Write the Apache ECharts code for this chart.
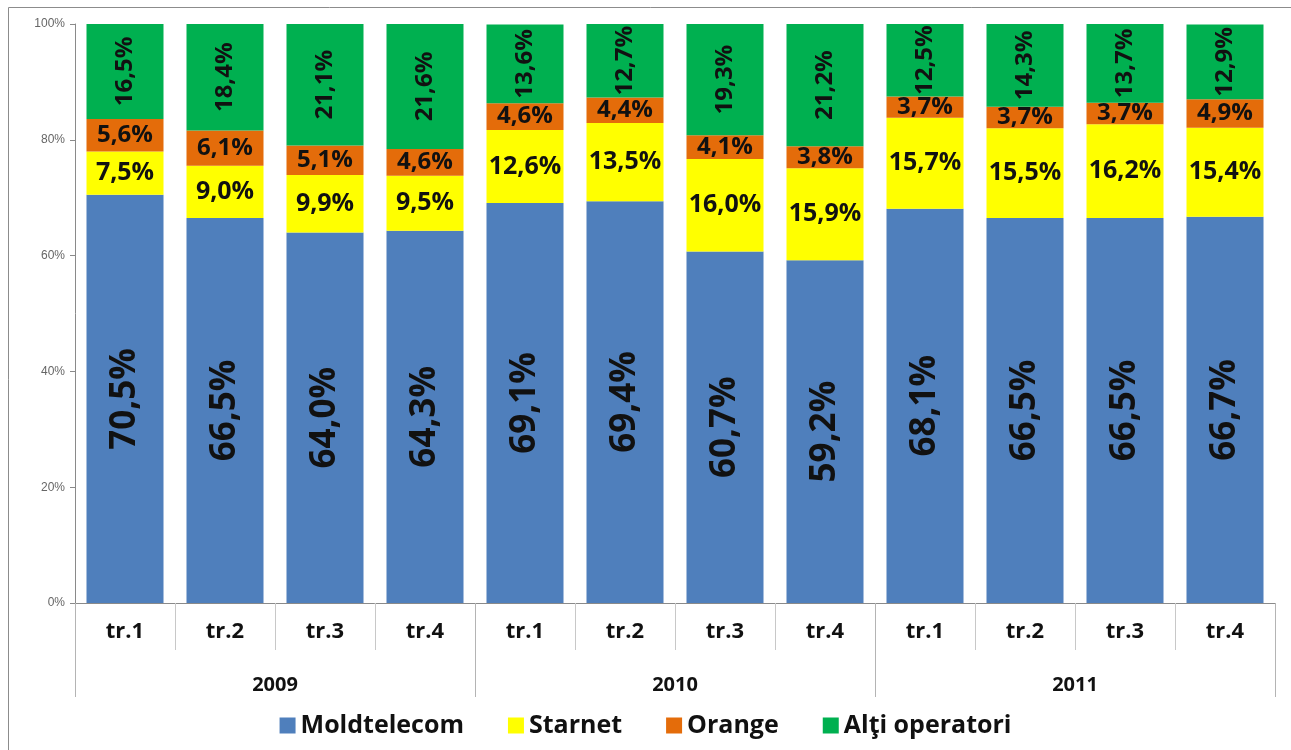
<!DOCTYPE html>
<html>
<head>
<meta charset="utf-8">
<script src="https://cdn.jsdelivr.net/npm/echarts@6/dist/echarts.min.js"></script>
<style>
  html, body { margin: 0; padding: 0; background: #fff; }
  #main { width: 1291px; height: 750px; }
</style>
</head>
<body>
<div id="main"></div>
<script>
var quarters = ['tr.1', 'tr.2', 'tr.3', 'tr.4', 'tr.1', 'tr.2', 'tr.3', 'tr.4', 'tr.1', 'tr.2', 'tr.3', 'tr.4'];
var years = ['2009', '2010', '2011'];
var yTicks = [0, 20, 40, 60, 80, 100];

var moldtelecom = [70.5, 66.5, 64.0, 64.3, 69.1, 69.4, 60.7, 59.2, 68.1, 66.5, 66.5, 66.7];
var starnet = [7.5, 9.0, 9.9, 9.5, 12.6, 13.5, 16.0, 15.9, 15.7, 15.5, 16.2, 15.4];
var orange = [5.6, 6.1, 5.1, 4.6, 4.6, 4.4, 4.1, 3.8, 3.7, 3.7, 3.7, 4.9];
var altii = [16.5, 18.4, 21.1, 21.6, 13.6, 12.7, 19.3, 21.2, 12.5, 14.3, 13.7, 12.9];

var FONT = '"Open Sans", "DejaVu Sans", sans-serif';

// 70.5 -> "70,5%"
function pct(p) {
  return p.value.toFixed(1).replace('.', ',') + '%';
}

function makeSeries(name, data, color, label) {
  return {
    name: name,
    type: 'bar',
    stack: 'total',
    barCategoryGap: '23%',
    data: data,
    itemStyle: { color: color },
    label: label
  };
}

var chart = echarts.init(document.getElementById('main'));

var option = {
  animation: false,
  textStyle: { fontFamily: FONT },
  graphic: [{
    type: 'rect',
    shape: { x: 8.5, y: 7.5, width: 1400, height: 900 },
    style: { fill: 'none', stroke: '#8c8c8c', lineWidth: 1 },
    silent: true
  }],
  grid: { left: 75, right: 16, top: 24, bottom: 147 },
  legend: {
    bottom: 7,
    left: 'center',
    itemWidth: 16,
    itemHeight: 16,
    itemGap: 44,
    icon: 'rect',
    textStyle: { fontFamily: FONT, fontSize: 25, fontWeight: 'bold', color: '#111' },
    data: ['Moldtelecom', 'Starnet', 'Orange', 'Alţi operatori']
  },
  xAxis: [
    {
      type: 'category',
      data: quarters,
      axisLine: { lineStyle: { color: '#8a8a8a', width: 1 } },
      axisTick: { show: true, length: 47, lineStyle: { color: '#c8c8c8' } },
      axisLabel: { margin: 18, fontSize: 22, fontWeight: 'bold', color: '#111', fontFamily: FONT }
    },
    {
      type: 'category',
      position: 'bottom',
      data: years,
      axisLine: { show: false },
      axisTick: { show: true, length: 94, lineStyle: { color: '#b4b4b4' } },
      axisLabel: { margin: 72, fontSize: 20, fontWeight: 'bold', color: '#111', fontFamily: FONT }
    }
  ],
  yAxis: {
    type: 'value',
    min: yTicks[0],
    max: yTicks[yTicks.length - 1],
    interval: 20,
    splitLine: { show: false },
    axisLine: { show: true, lineStyle: { color: '#8a8a8a' } },
    axisTick: { show: true, length: 5, lineStyle: { color: '#8a8a8a' } },
    axisLabel: { formatter: '{value}%', fontSize: 12, color: '#666', margin: 10, fontFamily: '"Liberation Sans Narrow", "Liberation Sans", sans-serif' }
  },
  series: [
    makeSeries('Moldtelecom', moldtelecom, '#4f7fbc', {
      show: true, position: 'inside', rotate: 90, formatter: pct,
      fontSize: 35, fontWeight: 'bold', color: '#111', fontFamily: FONT
    }),
    makeSeries('Starnet', starnet, '#ffff00', {
      show: true, position: 'inside', formatter: pct,
      fontSize: 25, fontWeight: 'bold', color: '#111', fontFamily: FONT
    }),
    makeSeries('Orange', orange, '#e46c0a', {
      show: true, position: 'inside', formatter: pct,
      fontSize: 24, fontWeight: 'bold', color: '#111', fontFamily: FONT
    }),
    makeSeries('Alţi operatori', altii, '#00b050', {
      show: true, position: 'inside', rotate: 90, formatter: pct,
      fontSize: 24, fontWeight: 'bold', color: '#111', fontFamily: FONT
    })
  ]
};

chart.setOption(option);
</script>
</body>
</html>
